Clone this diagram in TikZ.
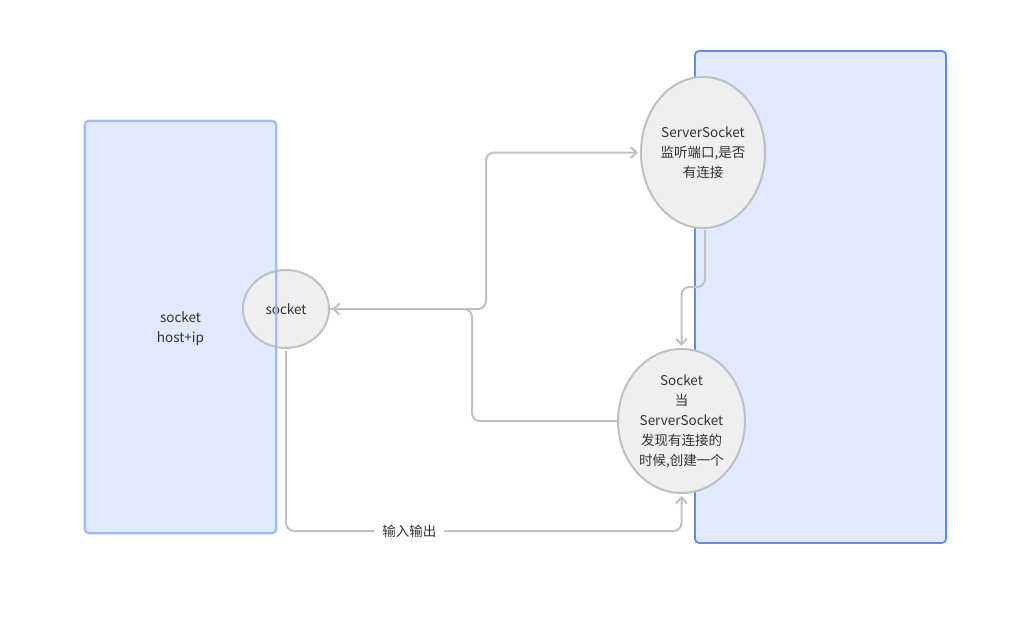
\documentclass[tikz,border=0pt]{standalone}
\usepackage{fontspec}
\newfontfamily\cjk{Noto Sans CJK SC}
\usetikzlibrary{shapes.geometric,arrows.meta}
\definecolor{fondbleu}{HTML}{E0E9FE}
\definecolor{bordbleu}{HTML}{5B8EF1}
\definecolor{bordclair}{HTML}{9DBAF8}
\definecolor{fondgris}{HTML}{EEEFF1}
\definecolor{traitgris}{HTML}{BFC0C4}
\definecolor{texte}{HTML}{333333}
\begin{document}
\begin{tikzpicture}[x=1pt,y=-1pt]
			\tikzstyle{fleche}=[-{Straight Barb[length=6pt,width=11pt]},line width=2pt,draw=traitgris,rounded corners=8pt,shorten >=3pt]
			\tikzstyle{cadre}=[rectangle,rounded corners=4pt,fill=fondbleu,text=texte,align=center,font=\cjk\fontsize{13.5}{20}\selectfont]
			\tikzstyle{bulle}=[ellipse,inner sep=0pt,outer sep=0pt,fill=fondgris,draw=traitgris,line width=2pt,text=texte,align=center,font=\cjk\fontsize{13.5}{20}\selectfont]
			\tikzstyle{etiquette}=[fill=white,text=texte,inner xsep=8pt,font=\cjk\fontsize{13.5}{20}\selectfont]
			\useasboundingbox (0,0) rectangle (1031,634);
			% cadres
			\node[cadre,draw=bordbleu,line width=1.8pt,minimum width=251pt,minimum height=492pt] (serveur) at (820.5,297) {};
			\node[cadre,minimum width=191pt,minimum height=412pt] (client) at (180.5,327) {};
			\node[text=texte,align=center,font=\cjk\fontsize{13.5}{20}\selectfont] (hote) at (180.5,329) {socket\\host+ip};
			% bulles
			\node[bulle,minimum width=124pt,minimum height=151pt] (ServerSocket) at (703,152.5) {ServerSocket\\监听端口,是否\\有连接};
			\node[bulle,minimum width=127pt,minimum height=144pt] (Socket) at (681.5,421) {Socket\\当\\ServerSocket\\发现有连接的\\时候,创建一个};
			\node[bulle,minimum width=86pt,minimum height=78pt] (socket) at (286,309) {socket};
			\draw[bordclair,line width=2.2pt,rounded corners=4pt] (client.south west) rectangle (client.north east);
			% liens
			\draw[fleche] (socket.east) -- (486,309) |- (ServerSocket.west);
			\draw[fleche] (Socket.west) -| (472,309) -- (socket.east);
			\draw[fleche,shorten <=2pt] ([xshift=2pt]ServerSocket.south) -- ++(0,59) -| (Socket.north);
			\draw[fleche,shorten <=3pt] (socket.south) |- node[etiquette,pos=0.656] {输入输出} (681.5,531) -- (Socket.south);
		\end{tikzpicture}
\end{document}
